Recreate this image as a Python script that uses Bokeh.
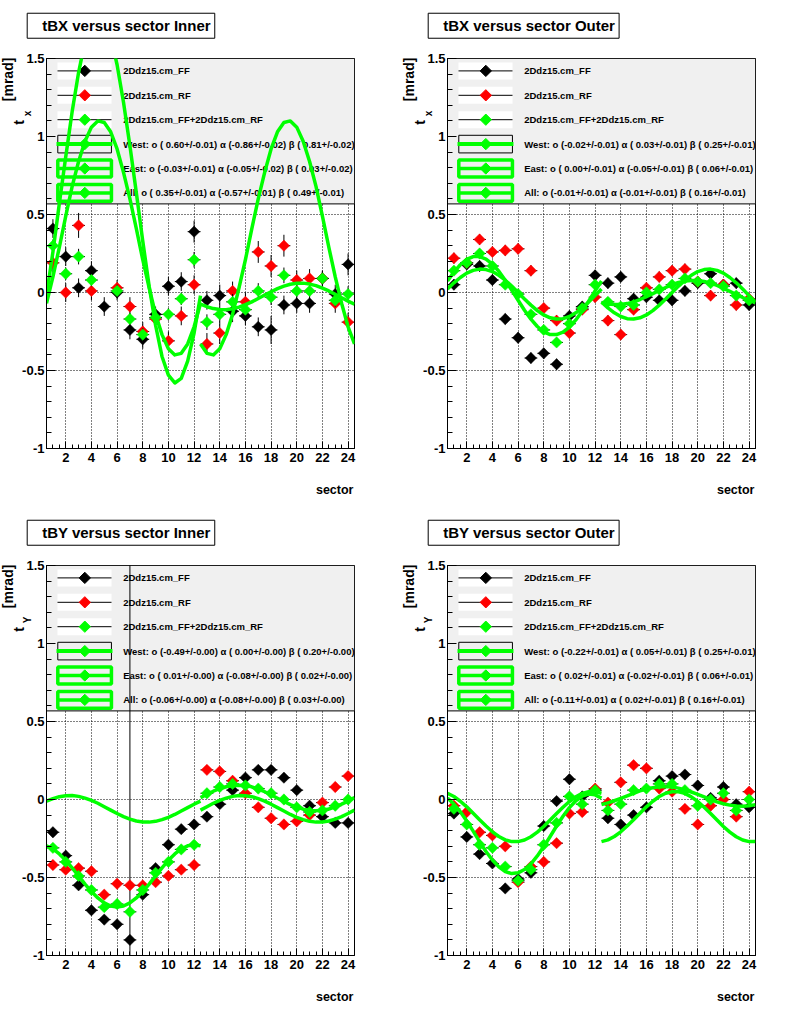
import numpy as np
from math import pi
from bokeh.plotting import figure
from bokeh.models import Range1d, Label, SingleIntervalTicker, CustomJSTickFormatter
from bokeh.layouts import column, row
from bokeh.embed import file_html
from bokeh.resources import INLINE
from bokeh.core.properties import value

FONT = "Liberation Sans"
GREEN = "#00ff00"
RED = "#ff0000"
NAN = float("nan")

# ---------------- data ----------------
sectors = list(range(1, 25))
curve_s_west = [0.5, 1.0, 1.5, 2.0, 2.5, 3.0, 3.5, 4.0, 4.5, 5.0, 5.5, 6.0, 6.5,
                7.0, 7.5, 8.0, 8.5, 9.0, 9.5, 10.0, 10.5, 11.0, 11.5, 12.0, 12.5]
curve_s_east = [12.5, 13.0, 13.5, 14.0, 14.5, 15.0, 15.5, 16.0, 16.5, 17.0, 17.5, 18.0, 18.5,
                19.0, 19.5, 20.0, 20.5, 21.0, 21.5, 22.0, 22.5, 23.0, 23.5, 24.0, 24.5]

series_names = ["2Ddz15.cm_FF", "2Ddz15.cm_RF", "2Ddz15.cm_FF+2Ddz15.cm_RF"]

# tBX Inner
tbx_in_ff = [0.41, 0.23, 0.03, 0.14, -0.09, 0.00, -0.24, -0.30, -0.14, 0.04, 0.07, 0.39,
             -0.05, -0.02, -0.12, -0.15, -0.22, -0.24, -0.08, -0.07, -0.07, 0.09, -0.01, 0.18]
tbx_in_rf = [0.19, 0.00, 0.43, 0.01, NAN, 0.03, -0.09, -0.25, -0.17, -0.31, -0.15, 0.05,
             -0.33, -0.26, 0.01, -0.06, 0.26, 0.17, 0.30, 0.08, 0.09, 0.09, -0.07, -0.19]
tbx_in_sum = [0.30, 0.12, 0.23, 0.08, NAN, 0.01, -0.17, -0.27, -0.16, -0.14, -0.04, 0.21,
              -0.19, -0.14, -0.06, -0.11, 0.01, -0.03, 0.11, 0.01, 0.01, 0.09, -0.05, -0.01]
tbx_in_ff_err = [0.06, 0.06, 0.06, 0.06, 0.06, 0.05, 0.06, 0.06, 0.05, 0.06, 0.06, 0.07,
                 0.06, 0.07, 0.07, 0.06, 0.06, 0.09, 0.06, 0.06, 0.06, 0.05, 0.06, 0.07]
tbx_in_rf_err = [0.06, 0.06, 0.08, 0.06, NAN, 0.05, 0.06, 0.06, 0.05, 0.06, 0.06, 0.06,
                 0.07, 0.07, 0.06, 0.06, 0.07, 0.07, 0.07, 0.06, 0.06, 0.05, 0.06, 0.06]
tbx_in_sum_err = [0.04, 0.04, 0.05, 0.04, NAN, 0.04, 0.04, 0.04, 0.04, 0.04, 0.04, 0.05,
                  0.05, 0.05, 0.05, 0.04, 0.05, 0.05, 0.05, 0.04, 0.04, 0.04, 0.04, 0.05]
tbx_in_west = [-0.02, 0.26, 0.57, 0.87, 1.16, 1.41, 1.61, 1.73, 1.78, 1.75, 1.64, 1.46, 1.22,
               0.94, 0.64, 0.33, 0.04, -0.21, -0.41, -0.53, -0.58, -0.55, -0.44, -0.26, -0.02]
tbx_in_all_w = [-0.07, 0.10, 0.29, 0.49, 0.68, 0.84, 0.97, 1.06, 1.10, 1.09, 1.03, 0.92, 0.77,
                0.60, 0.41, 0.21, 0.03, -0.14, -0.27, -0.36, -0.40, -0.39, -0.33, -0.22, -0.07]
tbx_in_east = [-0.075, -0.091, -0.103, -0.109, -0.11, -0.104, -0.094, -0.078, -0.06, -0.038,
               -0.016, 0.005, 0.025, 0.041, 0.053, 0.059, 0.06, 0.054, 0.044, 0.028, 0.01,
               -0.012, -0.034, -0.055, -0.075]
tbx_in_all_e = [-0.33, -0.39, -0.40, -0.36, -0.27, -0.14, 0.03, 0.21, 0.41, 0.60, 0.77, 0.92,
                1.03, 1.09, 1.10, 1.06, 0.97, 0.84, 0.68, 0.49, 0.29, 0.10, -0.07, -0.22, -0.33]
tbx_in_fits = ["West: o ( 0.60+/-0.01) \u03b1 (-0.86+/-0.02) \u03b2 ( 0.81+/-0.02)",
               "East: o (-0.03+/-0.01) \u03b1 (-0.05+/-0.02) \u03b2 ( 0.03+/-0.02)",
               "All: o ( 0.35+/-0.01) \u03b1 (-0.57+/-0.01) \u03b2 ( 0.49+/-0.01)"]

# tBX Outer
tbx_out_ff = [0.05, 0.18, 0.17, 0.08, -0.17, -0.29, -0.42, -0.39, -0.46, -0.15, -0.09, 0.11,
              0.06, 0.10, -0.04, -0.03, -0.05, -0.05, 0.01, 0.06, 0.12, 0.05, 0.06, -0.08]
tbx_out_rf = [0.22, 0.19, 0.34, 0.26, 0.27, 0.28, 0.14, -0.10, -0.18, -0.26, -0.11, -0.03,
              -0.18, -0.27, -0.11, 0.03, 0.10, 0.14, 0.15, 0.07, -0.02, 0.05, -0.08, -0.04]
tbx_out_sum = [0.14, 0.19, 0.25, 0.17, 0.05, -0.01, -0.14, -0.24, -0.32, -0.20, -0.10, 0.05,
               -0.06, -0.09, -0.08, 0.00, 0.02, 0.05, 0.09, 0.07, 0.06, 0.04, -0.02, -0.05]
tbx_out_ff_err = [0.035] * 24
tbx_out_rf_err = [0.035] * 24
tbx_out_sum_err = [0.025] * 24
tbx_out_west = [0.074, 0.131, 0.178, 0.212, 0.23, 0.23, 0.214, 0.182, 0.136, 0.079, 0.016,
                -0.05, -0.114, -0.171, -0.218, -0.252, -0.27, -0.27, -0.254, -0.222, -0.176,
                -0.119, -0.056, 0.01, 0.074]
tbx_out_all_w = [0.022, 0.062, 0.096, 0.124, 0.142, 0.15, 0.147, 0.134, 0.11, 0.079, 0.041,
                 0.0, -0.042, -0.081, -0.116, -0.144, -0.162, -0.17, -0.168, -0.154, -0.13,
                 -0.099, -0.061, -0.02, 0.022]
tbx_out_east = [-0.064, -0.073, -0.077, -0.077, -0.071, -0.06, -0.045, -0.027, -0.007, 0.013,
                0.032, 0.05, 0.064, 0.073, 0.077, 0.077, 0.071, 0.06, 0.045, 0.027, 0.007,
                -0.013, -0.032, -0.05, -0.064]
tbx_out_all_e = [-0.061, -0.099, -0.13, -0.154, -0.168, -0.17, -0.162, -0.144, -0.116, -0.081,
                 -0.042, 0.0, 0.041, 0.079, 0.11, 0.134, 0.147, 0.15, 0.142, 0.124, 0.096,
                 0.062, 0.022, -0.02, -0.061]
tbx_out_fits = ["West: o (-0.02+/-0.01) \u03b1 ( 0.03+/-0.01) \u03b2 ( 0.25+/-0.01)",
                "East: o ( 0.00+/-0.01) \u03b1 (-0.05+/-0.01) \u03b2 ( 0.06+/-0.01)",
                "All: o (-0.01+/-0.01) \u03b1 (-0.01+/-0.01) \u03b2 ( 0.16+/-0.01)"]

# tBY Inner
tby_in_ff = [-0.21, -0.36, -0.55, -0.71, -0.77, -0.80, -0.90, -0.61, -0.44, -0.29, -0.19, -0.16,
             -0.11, -0.03, 0.06, 0.14, 0.19, 0.19, 0.14, 0.06, -0.04, -0.11, -0.15, -0.15]
tby_in_rf = [-0.42, -0.45, -0.44, -0.46, -0.61, -0.54, -0.55, -0.55, -0.53, -0.49, -0.45, -0.42,
             0.19, 0.18, 0.12, 0.04, -0.05, -0.12, -0.16, -0.14, -0.10, -0.02, 0.08, 0.15]
tby_in_sum = [-0.31, -0.40, -0.49, -0.58, -0.69, -0.67, -0.72, -0.58, -0.47, -0.40, -0.32, -0.29,
              0.04, 0.08, 0.10, 0.09, 0.07, 0.04, 0.00, -0.05, -0.08, -0.07, -0.04, 0.00]
tby_in_ff_err = [0.015, 0.015, 0.015, 0.015, 0.015, 0.015, 3.0, 0.015, 0.015, 0.015, 0.015, 0.015,
                 0.015, 0.015, 0.015, 0.015, 0.015, 0.015, 0.015, 0.015, 0.015, 0.015, 0.015, 0.015]
tby_in_rf_err = [0.015] * 24
tby_in_sum_err = [0.01] * 24
tby_in_west = [-0.297, -0.317, -0.349, -0.39, -0.438, -0.49, -0.542, -0.59, -0.631, -0.663,
               -0.683, -0.69, -0.683, -0.663, -0.631, -0.59, -0.542, -0.49, -0.438, -0.39,
               -0.349, -0.317, -0.297, -0.29, -0.297]
tby_in_all_w = [-0.01, 0.006, 0.018, 0.024, 0.025, 0.02, 0.009, -0.006, -0.024, -0.046, -0.068,
                -0.09, -0.11, -0.126, -0.138, -0.144, -0.145, -0.14, -0.129, -0.114, -0.096,
                -0.074, -0.052, -0.03, -0.01]
tby_in_east = [0.012, 0.033, 0.053, 0.069, 0.082, 0.09, 0.092, 0.089, 0.081, 0.067, 0.05, 0.03,
               0.008, -0.013, -0.033, -0.049, -0.062, -0.07, -0.072, -0.069, -0.061, -0.047,
               -0.03, -0.01, 0.012]
tby_in_all_e = [-0.068, -0.046, -0.024, -0.006, 0.009, 0.02, 0.025, 0.024, 0.018, 0.006, -0.01,
                -0.03, -0.052, -0.074, -0.096, -0.114, -0.129, -0.14, -0.145, -0.144, -0.138,
                -0.126, -0.11, -0.09, -0.068]
tby_in_fits = ["West: o (-0.49+/-0.00) \u03b1 ( 0.00+/-0.00) \u03b2 ( 0.20+/-0.00)",
               "East: o ( 0.01+/-0.00) \u03b1 (-0.08+/-0.00) \u03b2 ( 0.02+/-0.00)",
               "All: o (-0.06+/-0.00) \u03b1 (-0.08+/-0.00) \u03b2 ( 0.03+/-0.00)"]

# tBY Outer
tby_out_ff = [-0.09, -0.24, -0.35, -0.41, -0.57, -0.51, -0.47, -0.17, -0.01, 0.13, 0.02, 0.06,
              -0.12, -0.16, -0.10, -0.05, 0.12, 0.15, 0.16, 0.09, 0.01, 0.08, -0.03, -0.05]
tby_out_rf = [-0.04, -0.08, -0.21, -0.23, -0.30, -0.53, -0.43, -0.40, -0.28, -0.09, -0.08, 0.07,
              -0.02, 0.11, 0.22, 0.20, 0.07, 0.05, -0.06, -0.16, -0.04, 0.00, -0.11, 0.05]
tby_out_sum = [-0.06, -0.16, -0.29, -0.31, -0.43, -0.52, -0.45, -0.29, -0.15, 0.02, -0.03, 0.06,
               -0.07, -0.03, 0.06, 0.07, 0.10, 0.10, 0.06, -0.04, 0.00, 0.04, -0.07, 0.00]
tby_out_ff_err = [0.03] * 24
tby_out_rf_err = [0.03] * 24
tby_out_sum_err = [0.02] * 24
tby_out_west = [0.009, -0.029, -0.078, -0.138, -0.203, -0.27, -0.333, -0.388, -0.432, -0.462,
                -0.475, -0.47, -0.449, -0.412, -0.362, -0.302, -0.237, -0.17, -0.107, -0.052,
                -0.008, 0.022, 0.035, 0.03, 0.009]
tby_out_all_w = [0.04, 0.019, -0.011, -0.047, -0.088, -0.13, -0.17, -0.207, -0.237, -0.259,
                 -0.27, -0.27, -0.26, -0.239, -0.209, -0.173, -0.132, -0.09, -0.05, -0.013,
                 0.017, 0.039, 0.05, 0.05, 0.04]
tby_out_east = [-0.033, -0.022, -0.008, 0.007, 0.023, 0.04, 0.055, 0.067, 0.076, 0.082, 0.083,
                0.08, 0.073, 0.062, 0.048, 0.033, 0.017, 0.0, -0.015, -0.027, -0.036, -0.042,
                -0.043, -0.04, -0.033]
tby_out_all_e = [-0.27, -0.259, -0.237, -0.207, -0.17, -0.13, -0.088, -0.047, -0.011, 0.019,
                 0.04, 0.05, 0.05, 0.039, 0.017, -0.013, -0.05, -0.09, -0.132, -0.173, -0.209,
                 -0.239, -0.26, -0.27, -0.27]
tby_out_fits = ["West: o (-0.22+/-0.01) \u03b1 ( 0.05+/-0.01) \u03b2 ( 0.25+/-0.01)",
                "East: o ( 0.02+/-0.01) \u03b1 (-0.02+/-0.01) \u03b2 ( 0.06+/-0.01)",
                "All: o (-0.11+/-0.01) \u03b1 ( 0.02+/-0.01) \u03b2 ( 0.16+/-0.01)"]

titles = ["tBX versus  sector Inner", "tBX versus  sector Outer",
          "tBY versus  sector Inner", "tBY versus  sector Outer"]
y_subscripts = ["x", "x", "Y", "Y"]


# ---------------- drawing ----------------
def add_series(p, y, e, color):
    s = np.asarray(sectors, dtype=float)
    y = np.asarray(y, dtype=float)
    e = np.asarray(e, dtype=float)
    p.segment(x0=s - 0.5, x1=s + 0.5, y0=y, y1=y, line_color="black", line_width=1)
    p.segment(x0=s, x1=s, y0=y - e, y1=y + e, line_color="black", line_width=1)
    p.scatter(x=s, y=y, marker="square", angle=pi / 4, size=8,
              fill_color=color, line_color=color, line_width=0.5)


def lab(p, side, text, x, y, size, align="left", baseline="middle", angle=0.0, **kw):
    p.add_layout(Label(x=x, y=y, text=text, text_font=FONT, text_font_style="bold",
                       text_font_size=size, text_align=align, text_baseline=baseline,
                       text_color="black", angle=angle, **kw), side)


def make_panel(idx, ff, rf, sm, ff_e, rf_e, sm_e, west, all_w, east, all_e, fits, bl, br):
    p = figure(width=400, height=507, frame_width=308, frame_height=390,
               x_range=Range1d(0.5, 24.5), y_range=Range1d(-1, 1.5),
               output_backend="svg", toolbar_location=None, title=None,
               min_border_left=bl, min_border_right=br,
               min_border_top=58, min_border_bottom=59)
    p.background_fill_color = "white"
    p.border_fill_color = "white"
    p.outline_line_color = "black"
    p.outline_line_width = 1

    xt = SingleIntervalTicker(interval=2, num_minor_ticks=4)
    yt = SingleIntervalTicker(interval=0.5, num_minor_ticks=5)
    p.xaxis.ticker = xt
    p.yaxis.ticker = yt
    p.xgrid.ticker = xt
    p.ygrid.ticker = yt
    for g in (p.xgrid, p.ygrid):
        g.grid_line_color = "black"
        g.grid_line_dash = "1 2"
        g.grid_line_width = 1
    for ax in (p.xaxis, p.yaxis):
        ax.axis_line_color = "black"
        ax.major_tick_line_color = "black"
        ax.minor_tick_line_color = "black"
        ax.major_tick_out = 0
        ax.minor_tick_out = 0
        ax.major_label_text_font = FONT
        ax.major_label_text_font_style = "bold"
        ax.major_label_text_font_size = "13px"
        ax.major_label_text_color = "black"
    p.xaxis.major_tick_in = 7
    p.xaxis.minor_tick_in = 4
    p.xaxis.major_label_standoff = 4
    p.yaxis.major_tick_in = 9
    p.yaxis.minor_tick_in = 5
    p.yaxis.major_label_standoff = 2
    p.yaxis.formatter = CustomJSTickFormatter(code="return tick.toString();")

    # legend block (drawn first, data goes over it)
    leg_y = [1.4205, 1.2641, 1.1077, 0.9513, 0.7949, 0.6385]
    p.quad(left=[0.5], right=[24.5], bottom=[0.568], top=[1.5],
           fill_color="#f0f0f0", line_color="black", line_width=1)
    colors = ["black", RED, GREEN]
    for i in range(3):
        yy = leg_y[i]
        p.quad(left=[1.357], right=[5.565], bottom=[yy - 0.0545], top=[yy + 0.0545],
               fill_color="white", line_color=None)
        p.segment(x0=[1.357], x1=[5.565], y0=[yy], y1=[yy], line_color="black", line_width=1)
        p.scatter(x=[3.485], y=[yy], marker="square", angle=pi / 4, size=8,
                  fill_color=colors[i], line_color=colors[i])
    yy = leg_y[3]
    p.quad(left=[1.38], right=[5.56], bottom=[yy - 0.0565], top=[yy + 0.0565],
           fill_color=None, line_color="black", line_width=1)
    p.segment(x0=[1.28], x1=[5.64], y0=[yy], y1=[yy], line_color=GREEN, line_width=4)
    p.scatter(x=[3.485], y=[yy], marker="square", angle=pi / 4, size=8,
              fill_color=GREEN, line_color=GREEN)
    for i in (4, 5):
        yy = leg_y[i]
        p.quad(left=[1.38], right=[5.56], bottom=[yy - 0.054], top=[yy + 0.054],
               fill_color=None, line_color=GREEN, line_width=3.5)
        p.segment(x0=[1.38], x1=[5.56], y0=[yy], y1=[yy], line_color=GREEN, line_width=3.5)
        p.scatter(x=[3.485], y=[yy], marker="square", angle=pi / 4, size=8,
                  fill_color=GREEN, line_color=GREEN)
    texts = series_names + fits
    for i in range(6):
        p.text(x=[6.477], y=[leg_y[i]], text=[texts[i]], text_font=value(FONT),
               text_font_style=value("bold"), text_font_size=value("9.5px"),
               text_align=value("left"), text_baseline=value("middle"), text_color="black")

    # data
    add_series(p, ff, ff_e, "black")
    add_series(p, rf, rf_e, RED)
    add_series(p, sm, sm_e, GREEN)

    # fit curves
    for xs, ys in ((curve_s_west, west), (curve_s_west, all_w),
                   (curve_s_east, east), (curve_s_east, all_e)):
        p.line(x=xs, y=ys, line_color=GREEN, line_width=3.5, line_join="round")

    # texts outside the frame (placed in side panels so they are not clipped)
    lab(p, "above", titles[idx], -1.004, 1.710, "15px", align="left", baseline="middle",
        background_fill_color="white", border_line_color="black", border_line_width=1,
        padding=dict(left=15, right=0, top=4, bottom=4))
    lab(p, "above", "t", -1.64, 1.0756, "14px", align="left", baseline="alphabetic",
        angle=pi / 2)
    lab(p, "above", y_subscripts[idx], -0.98, 1.130, "10px", align="left",
        baseline="alphabetic", angle=pi / 2)
    lab(p, "right", "[mrad]", -2.50, 1.2263, "14px", align="left", baseline="alphabetic",
        angle=pi / 2)
    lab(p, "below", "sector", 24.42, -1.267, "12.5px", align="right", baseline="alphabetic")
    return p


p1 = make_panel(0, tbx_in_ff, tbx_in_rf, tbx_in_sum, tbx_in_ff_err, tbx_in_rf_err, tbx_in_sum_err,
                tbx_in_west, tbx_in_all_w, tbx_in_east, tbx_in_all_e, tbx_in_fits, 46, 46)
p2 = make_panel(1, tbx_out_ff, tbx_out_rf, tbx_out_sum, tbx_out_ff_err, tbx_out_rf_err,
                tbx_out_sum_err, tbx_out_west, tbx_out_all_w, tbx_out_east, tbx_out_all_e,
                tbx_out_fits, 47, 45)
p3 = make_panel(2, tby_in_ff, tby_in_rf, tby_in_sum, tby_in_ff_err, tby_in_rf_err, tby_in_sum_err,
                tby_in_west, tby_in_all_w, tby_in_east, tby_in_all_e, tby_in_fits, 46, 46)
p4 = make_panel(3, tby_out_ff, tby_out_rf, tby_out_sum, tby_out_ff_err, tby_out_rf_err,
                tby_out_sum_err, tby_out_west, tby_out_all_w, tby_out_east, tby_out_all_e,
                tby_out_fits, 47, 45)

layout = column(row(p1, p2), row(p3, p4))
open("out.html", "w").write(file_html(layout, INLINE))
